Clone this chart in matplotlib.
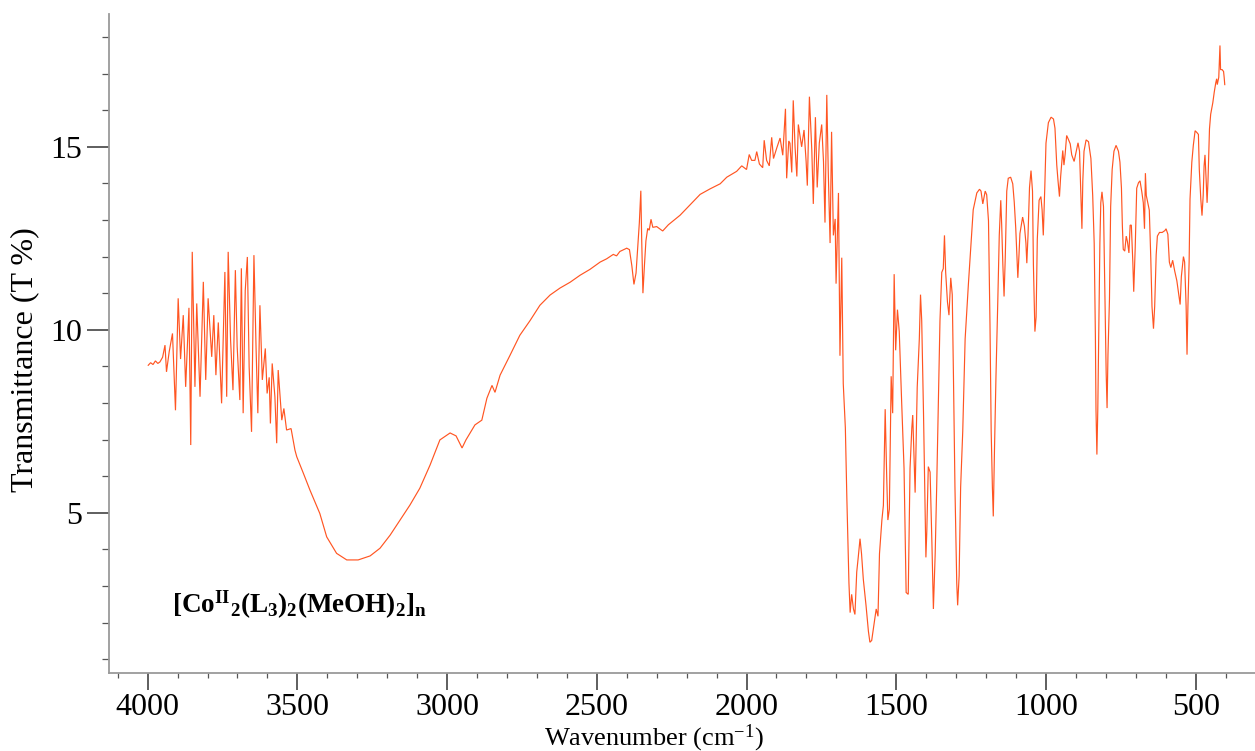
import numpy as np
import matplotlib
matplotlib.use("Agg")
import matplotlib.pyplot as plt
from matplotlib.ticker import MultipleLocator

plt.rcParams['font.family'] = ['Liberation Serif', 'DejaVu Serif']
plt.rcParams['mathtext.fontset'] = 'custom'
plt.rcParams['mathtext.rm'] = 'Liberation Serif'
plt.rcParams['mathtext.it'] = 'Liberation Serif:italic'
plt.rcParams['mathtext.bf'] = 'Liberation Serif:bold'
plt.rcParams['mathtext.default'] = 'regular'

# O-H stretching region (noisy)
wn_oh = [3998, 3990, 3982, 3974, 3966, 3959, 3950, 3942, 3937, 3928, 3917, 3907, 3898, 3890,
         3881, 3873, 3862, 3856, 3851, 3842, 3836, 3825, 3814, 3806, 3798, 3786, 3779, 3772,
         3764, 3753, 3742, 3736, 3731, 3723, 3715, 3707, 3701, 3692, 3687, 3681, 3674, 3667,
         3661, 3653, 3645, 3638, 3632, 3625, 3617, 3607, 3601, 3594, 3590, 3584, 3575, 3569,
         3564, 3552, 3545, 3536, 3521, 3508, 3502]
t_oh = [9.03, 9.10, 9.05, 9.15, 9.08, 9.12, 9.25, 9.58, 8.85, 9.4, 9.9, 7.8, 10.86, 9.2,
        10.4, 8.44, 10.6, 6.85, 12.13, 8.44, 10.72, 8.17, 11.31, 8.63, 10.86, 9.26, 10.4, 8.76,
        10.2, 7.99, 11.58, 8.17, 12.13, 9.72, 8.35, 11.63, 9.54, 8.08, 11.68, 7.72, 11.08, 11.99,
        8.99, 7.21, 12.04, 9.54, 7.72, 10.67, 8.63, 9.49, 8.26, 8.7, 7.44, 9.08, 8.17, 6.9,
        8.9, 7.53, 7.85, 7.26, 7.3, 6.71, 6.53]

# broad band and baseline rise
wn_broad = [3480, 3458, 3425, 3402, 3369, 3335, 3297, 3257, 3224, 3190, 3157, 3124, 3091, 3057,
            3024, 2990, 2970, 2950, 2937, 2907, 2884, 2867, 2850, 2840, 2823, 2790, 2757, 2723,
            2690, 2656, 2623, 2589, 2556, 2523]
t_broad = [6.08, 5.62, 4.98, 4.34, 3.89, 3.71, 3.71, 3.82, 4.03, 4.39, 4.8, 5.21, 5.67, 6.3,
           6.99, 7.18, 7.1, 6.77, 6.99, 7.4, 7.53, 8.13, 8.48, 8.29, 8.76, 9.3, 9.85, 10.25,
           10.67, 10.95, 11.14, 11.3, 11.49, 11.65]

# CO2 doublet and plateau
wn_mid = [2489, 2467, 2445, 2434, 2423, 2400, 2391, 2383, 2376, 2369, 2358, 2353, 2350, 2346,
          2341, 2336, 2330, 2325, 2319, 2313, 2300, 2280, 2261, 2222, 2189, 2155, 2122, 2088,
          2066, 2033, 2016, 2000, 1991, 1983, 1972, 1966, 1957, 1946, 1941, 1933, 1924, 1916,
          1910, 1899, 1888, 1879, 1870, 1866, 1859]
t_mid = [11.85, 11.94, 12.06, 12.02, 12.14, 12.23, 12.19, 11.75, 11.24, 11.55, 12.92, 13.80, 12.43, 11.0,
         11.75, 12.43, 12.77, 12.72, 13.02, 12.8, 12.82, 12.7, 12.87, 13.13, 13.41, 13.7, 13.85, 13.99,
         14.17, 14.33, 14.48, 14.38, 14.79, 14.63, 14.63, 14.87, 14.53, 14.43, 15.18, 14.63, 14.48, 15.26,
         14.68, 14.97, 15.24, 14.77, 16.04, 14.14, 15.16]

# carbonyl / carboxylate region
wn_co = [1855, 1849, 1844, 1838, 1832, 1827, 1816, 1808, 1801, 1797, 1790, 1782, 1777, 1770,
         1764, 1757, 1749, 1743, 1738, 1732, 1727, 1721, 1716, 1710, 1704, 1701, 1693, 1688,
         1682, 1677, 1670, 1665, 1658, 1654, 1649, 1643, 1638, 1632, 1627, 1621, 1616, 1610,
         1601, 1593, 1588, 1582, 1574, 1567, 1561, 1556, 1548, 1543, 1537, 1532, 1528, 1523,
         1517, 1512, 1507, 1502, 1496, 1490, 1482, 1474, 1467, 1460, 1454, 1448, 1445, 1437,
         1430, 1423]
t_co = [15.1, 14.3, 16.27, 15.0, 14.19, 15.61, 15.0, 15.46, 14.6, 13.94, 16.37, 14.9, 13.44, 15.81,
        13.89, 15.1, 15.61, 14.6, 12.93, 16.42, 14.3, 12.37, 15.41, 12.58, 13.03, 11.26, 13.74, 9.29,
        11.97, 8.53, 7.32, 5.4, 3.08, 2.27, 2.77, 2.37, 2.22, 3.38, 3.78, 4.29, 3.88, 3.18,
        2.47, 1.76, 1.46, 1.51, 1.96, 2.37, 2.17, 3.88, 4.8, 5.2, 7.83, 6.01, 4.8, 5.1,
        8.73, 7.72, 11.52, 9.44, 10.55, 9.95, 8.03, 6.21, 2.82, 2.77, 6.21, 7.32, 7.67, 5.55,
        8.43, 9.75]

# fingerprint region
wn_fp = [1419, 1415, 1409, 1405, 1401, 1398, 1393, 1387, 1381, 1376, 1370, 1365, 1359, 1354,
         1348, 1343, 1339, 1335, 1329, 1324, 1318, 1313, 1309, 1304, 1298, 1295, 1290, 1285,
         1278, 1270, 1259, 1251, 1243, 1231, 1222, 1217, 1211, 1203, 1198, 1192, 1187, 1183,
         1179, 1176, 1172, 1167, 1161, 1156, 1151, 1148, 1144, 1140, 1136, 1131, 1126, 1118,
         1111, 1106, 1101, 1094, 1090, 1087, 1078, 1072, 1067, 1064, 1060, 1055, 1050, 1045,
         1042, 1037, 1033, 1029, 1023, 1017, 1013, 1009, 1004, 1000, 992, 983, 975, 970,
         964, 960, 955, 951, 944, 940, 936, 931, 925]
t_fp = [10.96, 10.25, 7.72, 5.7, 3.78, 4.49, 6.26, 6.11, 4.19, 2.37, 3.88, 5.7, 8.23, 10.25,
        11.57, 11.67, 12.58, 11.57, 10.76, 10.4, 11.42, 10.96, 8.73, 5.7, 3.08, 2.47, 3.28, 5.7,
        7.22, 9.75, 11.26, 12.27, 13.28, 13.74, 13.84, 13.79, 13.44, 13.79, 13.69, 12.98, 10.15, 7.22,
        5.7, 4.9, 6.71, 8.73, 10.76, 12.58, 13.54, 12.88, 11.77, 10.91, 11.97, 13.79, 14.14, 14.17,
        13.99, 13.49, 12.78, 11.42, 12.07, 12.63, 13.08, 12.83, 12.37, 11.82, 12.58, 13.89, 14.35, 13.79,
        11.77, 9.95, 10.35, 12.48, 13.54, 13.64, 13.28, 12.58, 13.89, 15.1, 15.66, 15.81, 15.76, 15.51,
        14.5, 14.09, 13.64, 14.19, 14.9, 14.5, 14.8, 15.31, 15.2]

# low-wavenumber region
wn_low = [919, 914, 906, 899, 893, 888, 884, 880, 877, 873, 866, 858, 850, 844, 839, 835, 833,
          830, 827, 824, 820, 817, 813, 808, 804, 799, 796, 793, 788, 784, 779, 773, 766, 758,
          753, 748, 745, 742, 737, 732, 728, 723, 719, 715, 710, 707, 702, 697, 691, 686, 680,
          675, 671, 668, 665, 660, 655, 650, 646, 641, 637, 632, 628, 621, 612, 603, 599, 593,
          588, 583, 577, 570, 563, 558, 552, 548, 541, 537, 532, 529, 526, 522, 519, 513, 508,
          502, 496, 491, 488, 483, 479, 475, 472, 469, 465, 462, 459, 454, 450, 443, 438, 433,
          430, 428, 423, 419, 417, 412, 407, 405, 403]
t_low = [15.08, 14.78, 14.6, 14.88, 15.11, 14.88, 13.77, 12.76, 14.07, 14.88, 15.19, 15.14, 14.68, 13.67, 12.36, 9.83, 7.81,
         6.59, 7.81, 9.83, 12.36, 13.47, 13.77, 13.37, 11.34, 8.82, 7.86, 9.32, 10.84, 13.37, 14.38, 14.88, 15.04, 14.88,
         14.58, 13.87, 12.86, 12.2, 12.15, 12.56, 12.41, 12.1, 12.86, 12.86, 11.85, 11.04, 12.25, 13.87, 14.02, 14.07, 13.77,
         13.47, 12.76, 14.28, 13.67, 13.47, 13.27, 11.95, 10.64, 10.03, 10.64, 12.05, 12.56, 12.66, 12.66, 12.71, 12.76, 12.61,
         11.85, 11.7, 11.9, 11.6, 11.34, 11.04, 10.69, 11.45, 12.0, 11.85, 10.64, 9.32, 10.64, 11.85, 13.57, 14.58, 15.04,
         15.44, 15.39, 15.34, 14.38, 13.57, 13.12, 13.67, 14.48, 14.78, 14.07, 13.47, 14.07, 15.49, 15.89, 16.2, 16.5, 16.75,
         16.86, 16.7, 16.9, 17.77, 17.11, 17.11, 17.06, 16.9, 16.7]

x_ticks = [4000, 3500, 3000, 2500, 2000, 1500, 1000, 500]
y_ticks = [5, 10, 15]

wavenumber = np.concatenate([wn_oh, wn_broad, wn_mid, wn_co, wn_fp, wn_low])
transmittance = np.concatenate([t_oh, t_broad, t_mid, t_co, t_fp, t_low])

fig = plt.figure(figsize=(12.55, 7.51), dpi=100)
ax = fig.add_axes([109 / 1255, 78 / 751, 1146 / 1255, 659 / 751])

ax.plot(wavenumber, transmittance, color='#ff5522', lw=0.85, solid_joinstyle='miter')

ax.set_xlim(4129, 302)
ax.set_ylim(0.62, 18.63)

ax.set_xticks(x_ticks)
ax.set_xticklabels([str(v) for v in x_ticks])
ax.xaxis.set_minor_locator(MultipleLocator(100))
ax.set_yticks(y_ticks)
ax.set_yticklabels([str(v) for v in y_ticks])
ax.yaxis.set_minor_locator(MultipleLocator(1))

for side in ('top', 'right'):
    ax.spines[side].set_visible(False)
for side in ('left', 'bottom'):
    ax.spines[side].set_color('#9a9a9a')
    ax.spines[side].set_linewidth(1.3)

ax.tick_params(axis='x', which='major', direction='out', length=12.5, width=1.1,
               color='#333333', labelsize=23, pad=2)
ax.tick_params(axis='x', which='minor', direction='out', length=3.8, width=0.9, color='#555555')
ax.tick_params(axis='y', which='major', direction='out', length=15.5, width=1.1,
               color='#333333', labelsize=23, pad=4)
ax.tick_params(axis='y', which='minor', direction='out', length=4.8, width=0.9, color='#555555')

fig.text(654 / 1255, (751 - 745) / 751, r'Wavenumber (cm$^{-1}$)', fontsize=19,
         ha='center', va='baseline')
fig.text(25 / 1255, 1 - 359.5 / 751, 'Transmittance (T %)', fontsize=23,
         rotation=90, ha='center', va='center')

fig.text(172 / 1255, (751 - 613) / 751,
         r'$\mathbf{[Co^{II}{}_{2}(L_{3})_{2}(MeOH)_{2}]_{n}}$',
         fontsize=19.5, ha='left', va='baseline')

fig.savefig('out.png', dpi=100)
